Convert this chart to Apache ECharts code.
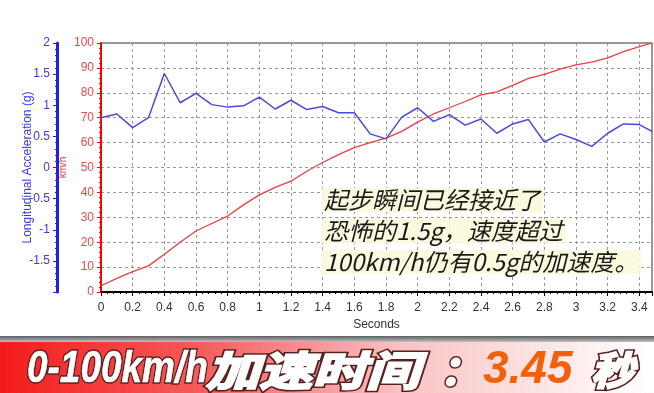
<!DOCTYPE html>
<html><head><meta charset="utf-8">
<script src="https://cdn.jsdelivr.net/npm/echarts@6/dist/echarts.min.js"></script>
<style>html,body{margin:0;padding:0;background:#fff}#c{width:654px;height:393px}</style>
</head><body><div id="c"></div>
<script>
// ---- data ----
const seconds = [0,0.1,0.2,0.3,0.4,0.5,0.6,0.7,0.8,0.9,1.0,1.1,1.2,1.3,1.4,1.5,1.6,1.7,1.8,1.9,2.0,2.1,2.2,2.3,2.4,2.5,2.6,2.7,2.8,2.9,3.0,3.1,3.2,3.3,3.4,3.48];
const accelG = [0.80,0.86,0.64,0.80,1.51,1.04,1.19,1.01,0.97,0.99,1.13,0.94,1.08,0.93,0.98,0.88,0.88,0.54,0.46,0.81,0.96,0.74,0.85,0.68,0.78,0.55,0.70,0.77,0.41,0.54,0.45,0.34,0.55,0.70,0.69,0.58];
const speedKmh = [2.5,5.5,8.2,10.5,15.2,20,24.5,27.5,30.5,35,39,42,44.5,48.5,52,55.2,58,60,61.8,64.5,68.2,71.5,74,76.5,79.2,80.4,83,85.8,87.4,89.5,91.2,92.3,94,96.5,98.5,100];
const xAxisName = 'Seconds';
const accelAxisName = 'Longitudinal Acceleration (g)';
const speedAxisName = 'km/h';
const noteLines = ['起步瞬间已经接近了','恐怖的1.5g，速度超过','100km/h仍有0.5g的加速度。'];
const bannerLatin = '0-100km/h';
const bannerCjk = '加速时间';
const bannerColon = '：';
const bannerValue = '3.45';
const bannerUnit = '秒';

const chart = echarts.init(document.getElementById('c'), null, {renderer:'canvas'});
const blueC = '#3a3ae0', redC = '#f03c44';
const dash = {color:'#999', type:[3,3], width:1};
const lf = 'Liberation Sans, Arial, sans-serif';

// heavy white text with dark outline: two stacked layers
function heavyText(text, x, scaleX, fontSize, family, whiteStroke){
  const base = {text, fontSize, fontWeight:'bold', fontStyle:'italic', fontFamily:family, verticalAlign:'middle'};
  return [
    {type:'text', x, y:370, scaleX, z:44,
      style:Object.assign({}, base, {fill:'#5a2020', stroke:'#5a2020', lineWidth:whiteStroke+3,
        shadowColor:'rgba(40,0,0,0.5)', shadowBlur:3, shadowOffsetX:1, shadowOffsetY:1})},
    {type:'text', x, y:370, scaleX, z:45,
      style:Object.assign({}, base, {fill:'#ffffff', stroke:'#ffffff', lineWidth:whiteStroke})}
  ];
}

const option = {
  animation:false,
  backgroundColor:'#fff',
  grid:{left:101, top:43, right:2, bottom:101, show:true, borderColor:'#333', borderWidth:1, backgroundColor:'#fff'},
  xAxis:{
    type:'value', min:0, max:3.48, interval:0.2,
    axisLine:{show:true, onZero:false, lineStyle:{color:'#000', width:2}},
    axisTick:{show:true, length:4, lineStyle:{color:'#000'}},
    minorTick:{show:true, splitNumber:5, length:2, lineStyle:{color:'#000'}},
    axisLabel:{color:'#333', fontSize:12, fontFamily:lf, margin:10, showMaxLabel:false,
      formatter:v=>String(Math.round(v*10)/10)},
    splitLine:{show:true, lineStyle:dash},
    name:xAxisName, nameLocation:'middle', nameGap:27,
    nameTextStyle:{color:'#333', fontSize:12, fontFamily:lf}
  },
  yAxis:[
    {
      type:'value', position:'left', min:0, max:100, interval:10,
      axisLine:{show:true, lineStyle:{color:'#ff0000', width:2}},
      axisTick:{show:true, length:4, lineStyle:{color:'#ff0000'}},
      minorTick:{show:true, splitNumber:5, length:2, lineStyle:{color:'#ff0000'}},
      axisLabel:{color:'#ee4848', fontSize:12, fontFamily:lf, margin:7},
      splitLine:{show:true, lineStyle:dash},
      name:speedAxisName, nameLocation:'middle', nameGap:33, nameMoveOverlap:false,
      nameTextStyle:{color:'#ee3030', fontSize:10, fontFamily:lf}
    },
    {
      type:'value', position:'left', offset:44, min:-2, max:2, interval:0.5,
      axisLine:{show:true, onZero:false, lineStyle:{color:'#2020e0', width:3}},
      axisTick:{show:true, length:4, lineStyle:{color:'#2020e0'}},
      minorTick:{show:true, splitNumber:5, length:2, lineStyle:{color:'#2020e0'}},
      axisLabel:{color:blueC, fontSize:12, fontFamily:lf, margin:7,
        formatter:v=>(v<=-2?'':String(v))},
      splitLine:{show:false},
      name:accelAxisName, nameLocation:'middle', nameGap:23, nameMoveOverlap:false,
      nameTextStyle:{color:blueC, fontSize:12, fontFamily:lf}
    }
  ],
  series:[
    {type:'line', yAxisIndex:0, showSymbol:false, data:seconds.map((t,i)=>[t,speedKmh[i]]),
      lineStyle:{color:redC, width:1.3}, z:3},
    {type:'line', yAxisIndex:1, showSymbol:false, data:seconds.map((t,i)=>[t,accelG[i]]),
      lineStyle:{color:'#4a4ad8', width:1.5}, z:4}
  ],
  graphic:[
    // annotation
    ...noteLines.map((s,i)=>({
      type:'text', x:322, y:200+i*31, z:50,
      style:{text:s, fontSize:24, fontStyle:'italic', fontFamily:'Noto Sans CJK SC, sans-serif',
        fill:'#1a1a1a', verticalAlign:'middle', align:'left',
        backgroundColor:'rgba(251,248,218,0.9)', padding:[0,3,0,2]}
    })),
    // banner
    {type:'rect', shape:{x:0,y:336,width:654,height:7}, z:40,
      style:{fill:new echarts.graphic.LinearGradient(0,0,0,1,[{offset:0,color:'#5e5e5e'},{offset:1,color:'#d0d0d0'}])}},
    {type:'rect', shape:{x:0,y:342,width:654,height:51}, z:40,
      style:{fill:new echarts.graphic.LinearGradient(0,0,1,0,[
        {offset:0,color:'#f41c1c'},{offset:0.3,color:'#f65a5a'},{offset:0.62,color:'#f9c4c4'},{offset:0.85,color:'#fde8e8'},{offset:1,color:'#ffffff'}])}},
    ...heavyText(bannerLatin, 27, 0.84, 44, 'Liberation Sans, sans-serif', 0.5),
    ...heavyText(bannerCjk, 206, 1.3, 41, 'Noto Sans CJK SC, sans-serif', 2.2),
    ...heavyText(bannerColon, 440, 1, 40, 'Noto Sans CJK SC, sans-serif', 2.2),
    {type:'text', x:483, y:370, z:45,
      style:{text:bannerValue, fontSize:46, fontWeight:'bold', fontStyle:'italic',
        fontFamily:'Liberation Sans, sans-serif', fill:'#f3600c', verticalAlign:'middle'}},
    ...heavyText(bannerUnit, 591, 1.1, 39, 'Noto Sans CJK SC, sans-serif', 2.2)
  ]
};
chart.setOption(option);
</script>
</body></html>
